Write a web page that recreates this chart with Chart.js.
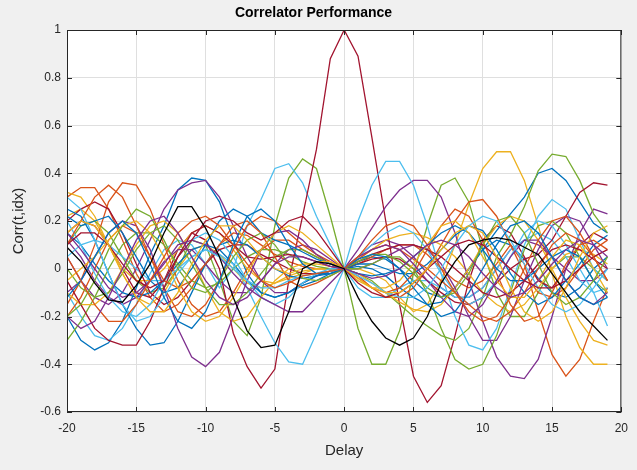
<!DOCTYPE html>
<html>
<head>
<meta charset="utf-8">
<script src="https://cdn.jsdelivr.net/npm/chart.js@4.4.1/dist/chart.umd.min.js"></script>
<style>
  html, body { margin: 0; padding: 0; background: #f0f0f0; }
  canvas { display: block; }
</style>
</head>
<body>
<canvas id="corrChart" width="637" height="470"></canvas>
<script>
const delay = [-20, -19, -18, -17, -16, -15, -14, -13, -12, -11,
  -10, -9, -8, -7, -6, -5, -4, -3, -2, -1,
  0, 1, 2, 3, 4, 5, 6, 7, 8, 9,
  10, 11, 12, 13, 14, 15, 16, 17, 18, 19];

// MATLAB default line colours
const lineColors = ['#0072BD', '#D95319', '#EDB120', '#7E2F8E', '#77AC30', '#4DBEEE', '#A2142F'];

const corr01 = [-0.20, -0.30, -0.34, -0.31, -0.22, -0.08, 0.06, 0.18, 0.33, 0.38,
  0.37, 0.28, 0.12, -0.02, -0.10, -0.12, -0.10, -0.07, -0.05, -0.02,
  0, 0.03, 0.05, 0.04, 0.00, -0.05, -0.10, -0.12, -0.08, 0.00,
  0.08, 0.12, 0.10, 0.04, -0.04, -0.10, -0.12, -0.08, 0.00, 0.05];
const corr02 = [0.30, 0.34, 0.34, 0.25, 0.12, -0.02, -0.12, -0.18, -0.15, -0.08,
  0.02, 0.10, 0.15, 0.14, 0.10, 0.06, 0.03, 0.01, 0.00, 0.00,
  0, 0.02, 0.05, 0.08, 0.10, 0.10, 0.06, 0.00, -0.05, -0.08,
  -0.05, 0.02, 0.10, 0.02, -0.18, -0.36, -0.45, -0.38, -0.22, -0.08];
const corr03 = [0.22, 0.25, 0.20, 0.10, -0.02, -0.12, -0.15, -0.10, 0.00, 0.08,
  0.10, 0.06, 0.00, -0.06, -0.08, -0.06, -0.03, -0.01, 0.00, 0.00,
  0, 0.00, -0.02, -0.05, -0.12, -0.18, -0.15, -0.05, 0.10, 0.27,
  0.42, 0.49, 0.49, 0.37, 0.18, -0.02, -0.20, -0.33, -0.40, -0.40];
const corr04 = [0.05, -0.05, -0.12, -0.15, -0.10, 0.00, 0.12, 0.25, 0.33, 0.36,
  0.37, 0.30, 0.18, 0.05, -0.05, -0.10, -0.10, -0.06, -0.03, -0.01,
  0, 0.05, 0.10, 0.12, 0.10, 0.05, -0.02, -0.08, -0.12, -0.12,
  -0.08, 0.00, 0.08, 0.12, 0.10, 0.05, 0.00, -0.05, -0.05, 0.00];
const corr05 = [0.10, 0.18, 0.20, 0.15, 0.05, -0.05, -0.10, -0.08, 0.00, 0.12,
  0.10, -0.05, -0.22, -0.28, -0.12, 0.18, 0.38, 0.46, 0.42, 0.22,
  0, -0.25, -0.40, -0.40, -0.26, -0.02, 0.18, 0.35, 0.38, 0.28,
  0.08, -0.10, -0.20, -0.20, -0.10, 0.00, 0.05, 0.05, 0.00, -0.05];
const corr06 = [-0.10, -0.20, -0.28, -0.30, -0.25, -0.15, -0.02, 0.08, 0.12, 0.10,
  0.02, -0.08, 0.00, 0.18, 0.29, 0.42, 0.44, 0.36, 0.22, 0.10,
  0, -0.08, -0.12, -0.12, -0.08, -0.05, -0.05, -0.08, -0.12, -0.12,
  -0.08, 0.00, 0.08, 0.12, 0.15, 0.12, 0.05, -0.05, -0.10, -0.08];
const autoCorr = [0.15, 0.20, 0.18, 0.10, 0.00, -0.10, -0.12, -0.05, 0.08, 0.15,
  0.12, 0.00, -0.27, -0.41, -0.50, -0.42, -0.05, 0.22, 0.50, 0.88,
  1.00, 0.89, 0.55, 0.20, -0.15, -0.45, -0.56, -0.49, -0.28, -0.05,
  0.12, 0.18, 0.15, 0.05, -0.05, -0.08, 0.00, 0.10, 0.15, 0.12];
const corr08 = [0.15, 0.10, 0.02, -0.05, -0.10, -0.12, -0.10, -0.05, 0.02, 0.08,
  0.10, 0.08, 0.02, -0.05, -0.10, -0.12, -0.10, -0.06, -0.03, -0.01,
  0, 0.01, 0.00, -0.03, -0.08, -0.12, -0.15, -0.14, -0.08, 0.00,
  0.08, 0.16, 0.23, 0.30, 0.40, 0.42, 0.37, 0.28, 0.19, 0.15];
const corr09 = [-0.15, -0.05, 0.10, 0.28, 0.36, 0.35, 0.25, 0.10, -0.05, -0.15,
  -0.20, -0.18, -0.10, 0.00, 0.08, 0.12, 0.12, 0.08, 0.05, 0.02,
  0, -0.03, -0.08, -0.12, -0.12, -0.08, 0.00, 0.10, 0.20, 0.28,
  0.29, 0.22, 0.10, -0.02, -0.10, -0.12, -0.08, 0.00, 0.08, 0.12];
const corr10 = [0.32, 0.30, 0.22, 0.10, 0.00, -0.05, -0.05, 0.00, 0.08, 0.15,
  0.18, 0.15, 0.08, 0.00, -0.05, -0.06, -0.04, -0.02, 0.00, 0.00,
  0, 0.04, 0.08, 0.12, 0.14, 0.15, 0.13, 0.10, 0.05, -0.02,
  -0.10, -0.15, -0.18, -0.15, -0.08, 0.00, 0.06, 0.08, 0.06, 0.02];
const corr11 = [0.12, 0.05, -0.05, -0.12, -0.15, -0.12, -0.05, 0.03, 0.08, 0.08,
  0.02, -0.05, -0.10, -0.10, -0.05, 0.02, 0.08, 0.10, 0.08, 0.04,
  0, 0.08, 0.17, 0.26, 0.33, 0.37, 0.37, 0.30, 0.15, -0.05,
  -0.22, -0.37, -0.45, -0.46, -0.38, -0.20, 0.00, 0.15, 0.25, 0.23];
const corr12 = [-0.30, -0.22, -0.12, 0.00, 0.10, 0.15, 0.15, 0.10, 0.02, -0.05,
  -0.08, -0.06, 0.00, 0.05, 0.08, 0.08, 0.06, 0.03, 0.01, 0.00,
  0, -0.02, -0.05, -0.10, -0.15, -0.20, -0.24, -0.28, -0.30, -0.25,
  -0.12, 0.05, 0.14, 0.26, 0.41, 0.48, 0.47, 0.37, 0.23, 0.15];
const corr13 = [0.05, 0.10, 0.12, 0.10, 0.05, 0.00, -0.05, -0.05, 0.00, 0.05,
  0.08, 0.06, 0.02, -0.08, -0.20, -0.31, -0.39, -0.40, -0.27, -0.13,
  0, 0.20, 0.35, 0.45, 0.45, 0.35, 0.18, -0.02, -0.20, -0.32,
  -0.34, -0.25, -0.08, 0.10, 0.22, 0.29, 0.25, 0.12, 0.00, -0.05];
const corr14 = [0.20, 0.25, 0.28, 0.25, 0.15, 0.02, -0.10, -0.15, -0.12, -0.05,
  0.02, 0.08, 0.10, 0.10, 0.06, 0.03, 0.00, -0.02, -0.02, -0.01,
  0, 0.02, 0.04, 0.05, 0.04, 0.00, -0.05, -0.10, -0.14, -0.15,
  -0.12, -0.06, 0.00, 0.04, 0.06, 0.12, 0.22, 0.32, 0.36, 0.35];
const corr15 = [0.25, 0.22, 0.12, -0.02, -0.15, -0.25, -0.32, -0.31, -0.22, -0.10,
  0.02, 0.10, 0.12, 0.10, 0.05, 0.00, -0.03, -0.04, -0.03, -0.02,
  0, 0.02, 0.02, 0.00, -0.02, -0.02, 0.02, 0.08, 0.14, 0.18,
  0.16, 0.08, -0.02, -0.10, -0.15, -0.12, -0.05, 0.02, 0.10, 0.14];
const corr16 = [-0.20, -0.12, 0.00, 0.12, 0.18, 0.15, 0.05, -0.08, -0.18, -0.20,
  -0.15, -0.05, 0.08, 0.18, 0.22, 0.20, 0.15, 0.10, 0.06, 0.03,
  0, -0.04, -0.08, -0.10, -0.08, -0.02, 0.08, 0.18, 0.25, 0.22,
  0.12, -0.02, -0.15, -0.22, -0.20, -0.10, 0.02, 0.10, 0.12, 0.08];
const corr17 = [-0.10, -0.15, -0.15, -0.10, 0.00, 0.10, 0.18, 0.20, 0.15, 0.05,
  -0.08, -0.18, -0.22, -0.20, -0.12, -0.05, 0.00, 0.02, 0.02, 0.01,
  0, -0.02, -0.06, -0.10, -0.14, -0.17, -0.18, -0.15, -0.08, 0.00,
  0.10, 0.18, 0.22, 0.20, 0.12, 0.00, -0.12, -0.22, -0.30, -0.32];
const corr18 = [-0.10, -0.05, 0.05, 0.15, 0.20, 0.18, 0.08, -0.08, -0.25, -0.37,
  -0.41, -0.35, -0.20, -0.05, 0.08, 0.15, 0.16, 0.12, 0.06, 0.02,
  0, 0.00, 0.02, 0.05, 0.08, 0.10, 0.08, 0.02, -0.08, -0.20,
  -0.30, -0.30, -0.20, -0.05, 0.08, 0.18, 0.22, 0.20, 0.10, 0.00];
const corr19 = [0.00, -0.08, -0.12, -0.10, -0.02, 0.08, 0.15, 0.18, 0.12, 0.02,
  -0.08, -0.15, -0.15, -0.10, -0.02, 0.05, 0.08, 0.08, 0.05, 0.02,
  0, 0.00, 0.02, 0.05, 0.05, 0.00, -0.10, -0.25, -0.38, -0.42,
  -0.40, -0.28, -0.10, 0.08, 0.18, 0.20, 0.15, 0.05, -0.05, -0.10];
const corr20 = [0.20, 0.10, -0.02, -0.12, -0.18, -0.20, -0.15, -0.05, 0.05, 0.12,
  0.15, 0.12, 0.05, -0.05, -0.12, -0.15, -0.12, -0.06, -0.02, 0.00,
  0, 0.05, 0.10, 0.15, 0.18, 0.15, 0.08, -0.02, -0.10, -0.15,
  -0.12, -0.05, 0.05, 0.15, 0.20, 0.18, 0.10, 0.00, -0.10, -0.24];
const corr21 = [-0.05, -0.15, -0.25, -0.30, -0.32, -0.32, -0.22, -0.08, 0.05, 0.15,
  0.18, 0.15, 0.10, 0.05, 0.04, 0.05, 0.06, 0.05, 0.03, 0.01,
  0, 0.03, 0.06, 0.08, 0.10, 0.10, 0.08, 0.05, 0.00, -0.05,
  -0.10, -0.12, -0.10, -0.05, 0.02, 0.08, 0.10, 0.08, 0.04, 0.00];
const corr22 = [0.22, 0.18, 0.20, 0.22, 0.15, 0.05, -0.05, -0.10, -0.08, 0.00,
  0.10, 0.20, 0.25, 0.22, 0.15, 0.12, 0.10, 0.07, 0.04, 0.02,
  0, -0.02, -0.03, -0.02, 0.00, 0.05, 0.10, 0.15, 0.18, 0.15,
  0.08, 0.00, -0.05, -0.05, 0.00, 0.05, 0.08, 0.05, -0.05, -0.12];
const corr23 = [0.10, 0.20, 0.30, 0.35, 0.30, 0.18, 0.05, -0.05, -0.08, -0.05,
  0.02, 0.10, 0.18, 0.20, 0.15, 0.05, -0.05, -0.08, -0.06, -0.03,
  0, 0.04, 0.08, 0.10, 0.08, 0.04, 0.00, -0.05, -0.10, -0.15,
  -0.20, -0.22, -0.18, -0.10, 0.00, 0.10, 0.15, 0.12, 0.05, -0.05];
const corr24 = [-0.05, 0.00, 0.05, 0.12, 0.18, 0.20, 0.15, 0.05, -0.08, -0.18,
  -0.22, -0.20, -0.12, -0.02, 0.08, 0.15, 0.18, 0.15, 0.10, 0.05,
  0, -0.05, -0.08, -0.08, -0.05, 0.02, 0.10, 0.18, 0.20, 0.15,
  0.05, -0.05, -0.12, -0.12, -0.05, 0.05, 0.12, 0.10, 0.00, -0.10];
const corr25 = [0.15, 0.08, 0.00, -0.08, -0.12, -0.10, -0.05, 0.02, 0.10, 0.12,
  0.10, 0.05, -0.02, -0.08, -0.12, -0.15, -0.18, -0.18, -0.12, -0.06,
  0, 0.05, 0.08, 0.10, 0.08, 0.02, -0.05, -0.12, -0.18, -0.20,
  -0.15, -0.05, 0.05, 0.12, 0.12, 0.05, -0.05, -0.12, -0.15, -0.10];
const corr26 = [-0.20, -0.15, -0.05, 0.08, 0.18, 0.25, 0.22, 0.12, 0.00, -0.08,
  -0.10, -0.05, 0.05, 0.12, 0.15, 0.10, 0.02, -0.04, -0.05, -0.03,
  0, 0.03, 0.06, 0.06, 0.03, -0.02, -0.08, -0.12, -0.10, -0.02,
  0.10, 0.20, 0.22, 0.15, 0.02, -0.10, -0.15, -0.12, -0.05, 0.05];
const corr27 = [0.30, 0.25, 0.12, -0.02, -0.15, -0.22, -0.20, -0.12, -0.02, 0.05,
  0.08, 0.05, 0.00, -0.05, -0.08, -0.08, -0.05, -0.03, -0.02, -0.01,
  0, -0.03, -0.06, -0.10, -0.12, -0.12, -0.08, 0.00, 0.10, 0.18,
  0.22, 0.20, 0.12, 0.02, -0.08, -0.15, -0.18, -0.15, -0.08, 0.00];
const corr28 = [0.10, 0.15, 0.15, 0.10, 0.02, -0.05, -0.08, -0.05, 0.05, 0.12,
  0.20, 0.22, 0.20, 0.15, 0.12, 0.15, 0.20, 0.22, 0.16, 0.08,
  0, -0.06, -0.10, -0.12, -0.10, -0.06, 0.00, 0.05, 0.10, 0.12,
  0.10, 0.05, 0.00, -0.05, -0.08, -0.08, -0.05, 0.00, 0.05, 0.08];
const corr29 = [-0.12, -0.05, 0.05, 0.15, 0.20, 0.15, 0.02, -0.12, -0.22, -0.25,
  -0.18, -0.05, 0.10, 0.22, 0.25, 0.20, 0.10, 0.02, -0.02, -0.02,
  0, 0.04, 0.06, 0.05, 0.00, -0.08, -0.15, -0.20, -0.18, -0.10,
  0.00, 0.10, 0.18, 0.20, 0.15, 0.05, -0.05, -0.12, -0.15, -0.12];
const corr30 = [0.05, -0.05, -0.15, -0.22, -0.22, -0.15, -0.05, 0.05, 0.15, 0.20,
  0.22, 0.18, 0.10, 0.02, -0.05, -0.08, -0.06, -0.03, -0.02, -0.01,
  0, 0.05, 0.12, 0.18, 0.20, 0.18, 0.10, 0.00, -0.10, -0.18,
  -0.22, -0.20, -0.12, 0.00, 0.12, 0.20, 0.22, 0.15, 0.05, -0.05];
const corr31 = [0.15, 0.20, 0.18, 0.10, -0.02, -0.12, -0.18, -0.18, -0.10, 0.02,
  0.12, 0.18, 0.18, 0.12, 0.05, 0.00, -0.02, 0.00, 0.03, 0.03,
  0, -0.04, -0.08, -0.10, -0.10, -0.06, 0.00, 0.08, 0.15, 0.18,
  0.15, 0.05, -0.08, -0.18, -0.22, -0.18, -0.08, 0.05, 0.15, 0.18];
const corr32 = [-0.20, -0.25, -0.22, -0.12, 0.00, 0.12, 0.20, 0.22, 0.15, 0.05,
  -0.05, -0.12, -0.15, -0.12, -0.05, 0.02, 0.05, 0.05, 0.03, 0.01,
  0, -0.02, -0.04, -0.03, 0.00, 0.05, 0.10, 0.12, 0.10, 0.05,
  -0.02, -0.08, -0.12, -0.10, -0.05, 0.02, 0.08, 0.12, 0.10, 0.05];
const corrBlack = [0.09, 0.03, -0.06, -0.13, -0.14, -0.07, 0.02, 0.15, 0.26, 0.26,
  0.17, 0.05, -0.12, -0.26, -0.33, -0.32, -0.18, 0.00, 0.03, 0.02,
  0, -0.12, -0.22, -0.29, -0.32, -0.29, -0.20, -0.06, 0.03, 0.10,
  0.12, 0.13, 0.12, 0.09, 0.06, -0.02, -0.10, -0.18, -0.24, -0.30];

const allSeries = [corr01, corr02, corr03, corr04, corr05, corr06, autoCorr,
  corr08, corr09, corr10, corr11, corr12, corr13, corr14,
  corr15, corr16, corr17, corr18, corr19, corr20, corr21,
  corr22, corr23, corr24, corr25, corr26, corr27, corr28,
  corr29, corr30, corr31, corr32];

let datasets = allSeries.map((vals, i) => ({
    data: delay.map((d, k) => ({ x: d, y: vals[k] })),
    borderColor: lineColors[i % lineColors.length],
}));
datasets.push({
    data: delay.map((d, k) => ({ x: d, y: corrBlack[k] })),
    borderColor: '#000000',
});
// MATLAB draws later lines on top, Chart.js the other way round
datasets.reverse();

const fontFamily = '"Liberation Sans", Arial, Helvetica, sans-serif';

// grey figure, white axes, box with inward ticks like MATLAB
const axesFrame = {
    id: 'axesFrame',
    beforeDraw(chart) {
        const { ctx, chartArea: a } = chart;
        ctx.save();
        ctx.fillStyle = '#f0f0f0';
        ctx.fillRect(0, 0, chart.width, chart.height);
        ctx.fillStyle = '#ffffff';
        ctx.fillRect(a.left, a.top, a.right - a.left, a.bottom - a.top);
        ctx.restore();
    },
    afterDraw(chart) {
        const { ctx, chartArea: a, scales: { x, y } } = chart;
        ctx.save();
        ctx.strokeStyle = '#262626';
        ctx.lineWidth = 1;
        ctx.beginPath();
        x.ticks.forEach(t => {
            const px = Math.round(x.getPixelForValue(t.value)) + 0.5;
            ctx.moveTo(px, a.bottom); ctx.lineTo(px, a.bottom - 5);
            ctx.moveTo(px, a.top); ctx.lineTo(px, a.top + 5);
        });
        y.ticks.forEach(t => {
            const py = Math.round(y.getPixelForValue(t.value)) + 0.5;
            ctx.moveTo(a.left, py); ctx.lineTo(a.left + 5, py);
            ctx.moveTo(a.right, py); ctx.lineTo(a.right - 5, py);
        });
        ctx.stroke();
        ctx.strokeRect(a.left + 0.5, a.top + 0.5, a.right - a.left - 1, a.bottom - a.top - 1);
        ctx.restore();
    }
};

new Chart(document.getElementById('corrChart'), {
    type: 'line',
    data: { datasets: datasets },
    options: {
        responsive: false,
        animation: false,
        devicePixelRatio: 1,
        layout: { padding: { left: 0, right: 10, top: 0, bottom: 0 } },
        elements: {
            point: { radius: 0 },
            line: { borderWidth: 1.3, tension: 0, fill: false }
        },
        scales: {
            x: {
                type: 'linear',
                min: -20,
                max: 20,
                afterFit: s => { s.height = 58; },
                ticks: { stepSize: 5, color: '#262626', padding: 9, font: { family: fontFamily, size: 12 } },
                grid: { color: '#dfdfdf', drawTicks: false },
                border: { display: false },
                title: { display: true, text: 'Delay', color: '#262626', padding: { top: 0, bottom: 10 }, font: { family: fontFamily, size: 15 } }
            },
            y: {
                min: -0.6,
                max: 1,
                afterFit: s => { s.width = 67; },
                ticks: {
                    stepSize: 0.2, color: '#262626', padding: 6, font: { family: fontFamily, size: 12 },
                    callback: v => String(Number(v.toFixed(1)))
                },
                grid: { color: '#dfdfdf', drawTicks: false },
                border: { display: false },
                title: { display: true, text: 'Corr(t,idx)', color: '#262626', padding: { top: 10, bottom: 0 }, font: { family: fontFamily, size: 15 } }
            }
        },
        plugins: {
            legend: { display: false },
            tooltip: { enabled: false },
            title: {
                display: true,
                text: 'Correlator Performance',
                color: '#000000',
                padding: { top: 5, bottom: 8.2 },
                font: { family: fontFamily, size: 14, weight: 'bold' }
            }
        }
    },
    plugins: [axesFrame]
});
</script>
</body>
</html>
